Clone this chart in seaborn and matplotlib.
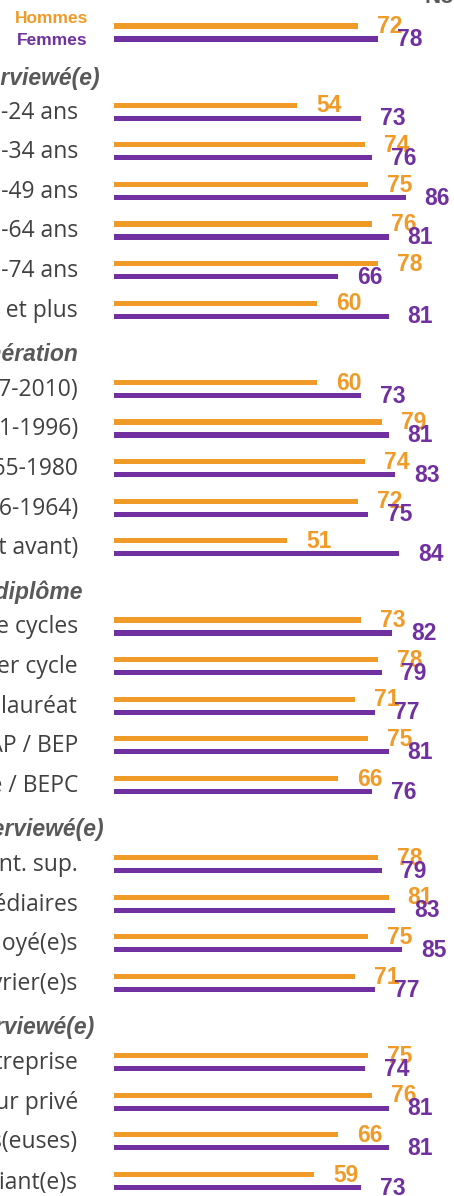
import pandas as pd
import matplotlib.pyplot as plt
import seaborn as sns

# Données (part en %, hommes / femmes)
total = "Ensemble"
total_hommes = 72
total_femmes = 78

titres = ["Âge de l'interviewé(e)", "Génération", "Niveau de diplôme",
          "Catégorie socioprofessionnelle de l'interviewé(e)", "Statut de l'interviewé(e)"]

cat_age = ["18-24 ans", "25-34 ans", "35-49 ans", "50-64 ans", "65-74 ans", "75 ans et plus"]
h_age = [54, 74, 75, 76, 78, 60]
f_age = [73, 76, 86, 81, 66, 81]

cat_gen = ["Génération Z (1997-2010)", "Génération Y (1981-1996)", "Génération X (1965-1980",
           "Baby-boomers (1946-1964)", "Silencieuse (1945 et avant)"]
h_gen = [60, 79, 74, 72, 51]
f_gen = [73, 81, 83, 75, 84]

cat_dip = ["2e et 3e cycles", "1er cycle", "Baccalauréat", "CAP / BEP", "Aucun diplôme / BEPC"]
h_dip = [73, 78, 71, 75, 66]
f_dip = [82, 79, 77, 81, 76]

cat_csp = ["Cadres, prof. int. sup.", "Professions intermédiaires", "Employé(e)s", "Ouvrier(e)s"]
h_csp = [78, 81, 75, 71]
f_csp = [79, 83, 85, 77]

cat_stat = ["Chef(fe) d'entreprise", "Salarié(e) du secteur privé", "Chômeurs(euses)", "Étudiant(e)s"]
h_stat = [75, 76, 66, 59]
f_stat = [74, 81, 81, 73]

ORANGE = "#F09A28"
VIOLET = "#7030A0"
GRIS = "#404040"
GRIS_TITRE = "#595959"

PX = 3.39          # pixels par point de %
PITCH = 39.6       # pixels entre deux lignes
EPAISSEUR = 5.2 / PITCH

# construction du tableau long + ordre des lignes (titres compris)
blocs = [(cat_age, h_age, f_age), (cat_gen, h_gen, f_gen), (cat_dip, h_dip, f_dip),
         (cat_csp, h_csp, f_csp), (cat_stat, h_stat, f_stat)]
ordre = [total]
lignes = [(total, "Hommes", total_hommes), (total, "Femmes", total_femmes)]
for titre, (cats, hs, fs) in zip(titres, blocs):
    ordre.append(titre)
    for c, h, f in zip(cats, hs, fs):
        ordre.append(c)
        lignes.append((c, "Hommes", h))
        lignes.append((c, "Femmes", f))
df = pd.DataFrame(lignes, columns=["Catégorie", "Sexe", "Valeur"])

sns.set_style("white")
plt.rcParams["font.family"] = ["Liberation Sans", "DejaVu Sans"]

fig = plt.figure(figsize=(4.54, 11.96), dpi=100)
ax = fig.add_axes([114 / 454, 0, 340 / 454, 1])
sns.barplot(data=df, y="Catégorie", x="Valeur", hue="Sexe", order=ordre,
            hue_order=["Hommes", "Femmes"], palette=[ORANGE, VIOLET], orient="h",
            width=2 * 13 / PITCH, errorbar=None, saturation=1, legend=False, ax=ax)

# barres fines + étiquettes de valeurs
for p in list(ax.patches):
    w = p.get_width()
    if not w == w or w <= 0:
        continue
    yc = p.get_y() + p.get_height() / 2
    p.set_y(yc - EPAISSEUR / 2)
    p.set_height(EPAISSEUR)
    p.set_linewidth(0)
    couleur = ORANGE if yc < round(yc) else VIOLET
    ax.text(w + 19 / PX, yc + 0.02, f"{w:.0f}", color=couleur, fontsize=16.5,
            fontweight="bold", ha="left", va="center", clip_on=False)

ax.set_xlim(0, 340 / PX)
ax.set_ylim((1196 - 32.5) / PITCH, -32.5 / PITCH)
ax.axis("off")

# libellés des lignes
bords_titres = [100, 79, 83, 104, 94]
k = 0
for i, lab in enumerate(ordre):
    if lab == total:
        ax.text((88 - 114) / PX, i - 13.5 / PITCH, "Hommes", color=ORANGE, fontsize=12.5,
                fontweight="bold", ha="right", va="center")
        ax.text((88 - 114) / PX, i + 8.5 / PITCH, "Femmes", color=VIOLET, fontsize=12.5,
                fontweight="bold", ha="right", va="center")
    elif lab in titres:
        ax.text((bords_titres[k] - 114) / PX, i + 5 / PITCH, lab, color=GRIS_TITRE,
                fontsize=16.5, fontweight="bold", style="italic", ha="right", va="center")
        k += 1
    else:
        ax.text((78 - 114) / PX, i + 1 / PITCH, lab, color=GRIS, fontsize=16.5,
                family=["Open Sans", "DejaVu Sans"], ha="right", va="center")

fig.text(425 / 454, 1 - 3 / 1196, "Note", color=GRIS_TITRE, fontsize=16,
         fontweight="bold", ha="left", va="baseline")

fig.savefig("out.png", dpi=100)
